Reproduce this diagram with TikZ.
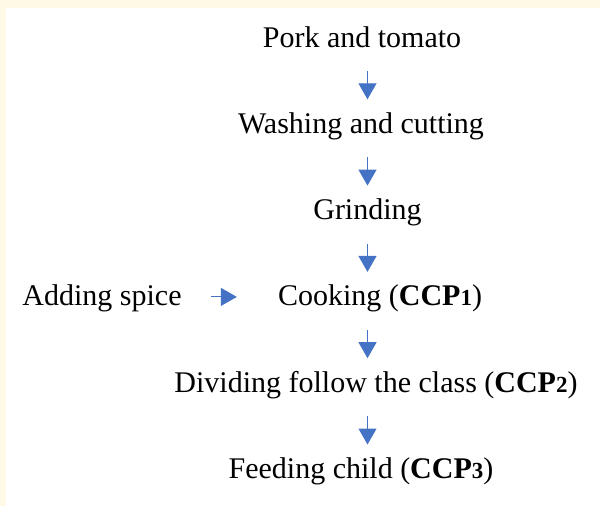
\documentclass[tikz,border=0pt]{standalone}
\usepackage{fontspec}
\setmainfont{Liberation Serif}
\usetikzlibrary{arrows.meta}
\definecolor{flowblue}{HTML}{4472C4}
\definecolor{paleyellow}{HTML}{FFF9E5}
\newcommand{\ccpmark}[1]{\textbf{CCP{\fontsize{23}{23}\selectfont #1}}}
\begin{document}
\begin{tikzpicture}[x=1pt,y=-1pt,
  lbl/.style={font=\fontsize{30}{36}\selectfont, inner sep=0pt, anchor=base},
  flow/.style={draw=flowblue, line width=1.1pt, -{Triangle[width=18pt,length=16pt]}}]
\useasboundingbox (0,0) rectangle (600,506);
\fill[white] (0,0) rectangle (600,506);
\fill[paleyellow] (0,0) rectangle (600,8);
\fill[paleyellow] (0,0) rectangle (6,506);
\node[lbl] (pork) at (362,47) {Pork and tomato};
\node[lbl] (wash) at (361,133.3) {Washing and cutting};
\node[lbl] (grind) at (367.5,219.6) {Grinding};
\node[lbl] (cook) at (380,305.9) {Cooking (\ccpmark{1})};
\node[lbl] (spice) at (102,305.9) {Adding spice};
\node[lbl] (divide) at (376,392.2) {Dividing follow the class (\ccpmark{2})};
\node[lbl] (feed) at (361,478.5) {Feeding child (\ccpmark{3})};
\coordinate (ax) at (367.5,0);
\draw[flow] ([yshift=-24pt]ax |- pork.base) -- ([yshift=34pt]ax |- wash.base);
\draw[flow] ([yshift=-24pt]ax |- wash.base) -- ([yshift=34pt]ax |- grind.base);
\draw[flow] ([yshift=-24pt]ax |- grind.base) -- ([yshift=34pt]ax |- cook.base);
\draw[flow] ([yshift=-24pt]ax |- cook.base) -- ([yshift=34pt]ax |- divide.base);
\draw[flow] ([yshift=-24pt]ax |- divide.base) -- ([yshift=34pt]ax |- feed.base);
\draw[flow] ([xshift=29pt,yshift=9pt]spice.base east) -- ([xshift=-41pt,yshift=9pt]cook.base west);
\end{tikzpicture}
\end{document}
